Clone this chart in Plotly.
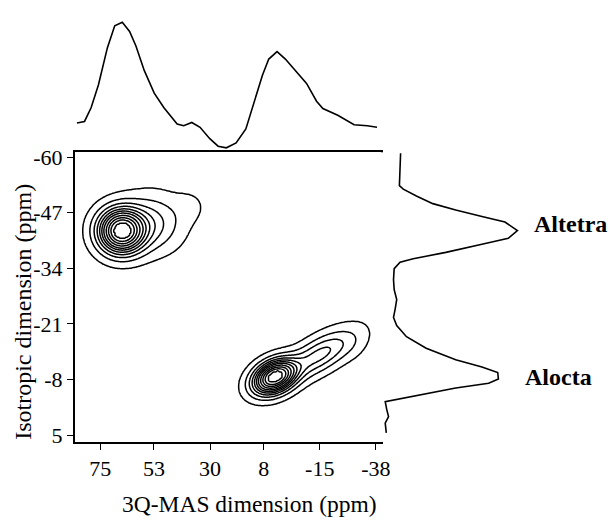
import numpy as np
import plotly.graph_objects as go

# ---------------- data ----------------
# Top projection (3Q-MAS dimension, ppm) : relative intensity
top_ppm = [84.6, 81.5, 78.8, 75.8, 72.1, 69.1, 66.0, 63.0, 60.4, 57.0, 52.9, 48.9,
           43.5, 40.8, 37.5, 34.1, 30.1, 26.7, 23.3, 19.3, 15.3, 11.9, 8.5, 5.9,
           2.5, -0.9, -4.9, -9.6, -13.7, -16.3, -22.4, -29.1, -34.5, -38.5]
top_int = [20.0, 21.3, 32.1, 50.0, 79.5, 96.7, 99.5, 92.3, 80.8, 61.5, 43.6, 32.1,
           19.2, 17.9, 20.5, 16.7, 7.7, 1.8, 0.5, 4.4, 15.4, 37.2, 57.7, 70.5,
           76.4, 70.5, 61.5, 51.3, 37.2, 31.5, 26.2, 18.7, 17.9, 16.7]

# Right projection (isotropic dimension, ppm) : relative intensity
right_ppm = [-60.9, -57.1, -53.3, -52.5, -50.9, -49.1, -47.6, -46.1, -44.8, -42.8,
             -41.0, -39.6, -37.7, -36.2, -35.4, -33.9, -31.3, -29.0, -26.7, -24.4,
             -22.5, -20.6, -18.0, -15.3, -12.6, -10.9, -9.6, -8.1, -7.1, -6.0,
             -4.3, -3.3, -2.8, -0.9, 0.7, 2.2, 4.5]
right_int = [12.7, 12.3, 11.8, 14.7, 24.5, 36.8, 53.9, 73.5, 90.7, 100.0,
             93.2, 73.5, 46.5, 22.1, 12.3, 7.9, 7.4, 7.9, 9.8, 8.6,
             7.4, 9.8, 17.1, 31.8, 53.9, 73.5, 85.3, 85.8, 78.5, 53.9,
             24.5, 7.4, 1.2, 2.4, 3.7, 1.2, 2.0]

# 2D contour map: peak components (centre, widths, ridge slope, amplitude)
peak_x0 = [66.4, 54.0, 38.0, 3.5, -15.0, -29.0]
peak_y0 = [-42.7, -44.5, -48.5, -8.6, -13.8, -16.0]
peak_sx = [6.0, 8.0, 5.0, 5.6, 9.0, 4.5]
peak_sy = [3.3, 4.2, 2.8, 2.4, 2.7, 2.4]
peak_slope = [0.0, 0.0, 0.0, 0.15, 0.27, 0.2]
peak_amp = [1.0, 0.2, 0.035, 1.0, 0.29, 0.03]

contour_levels = [0.03, 0.1, 0.18, 0.26, 0.34, 0.42, 0.5, 0.6, 0.7, 0.8, 0.9]

x_ticks = [75, 53, 30, 8, -15, -38]
y_ticks = [-60, -47, -34, -21, -8, 5]

peak_labels = ["Altetra", "Alocta"]

# ---------------- build the figure ----------------
W, H = 610, 523
FONT = "Liberation Serif, Times New Roman, serif"

gx = np.arange(-40.0, 86.01, 0.5)
gy = np.arange(-61.0, 7.01, 0.25)
X, Y = np.meshgrid(gx, gy)
I = np.zeros_like(X)
for x0, y0, sx, sy, s, a in zip(peak_x0, peak_y0, peak_sx, peak_sy, peak_slope, peak_amp):
    da = X - x0
    db = (Y - y0) - s * da
    I += a * np.exp(-(da ** 2 / (2 * sx ** 2) + db ** 2 / (2 * sy ** 2)))

n = len(contour_levels)
xp = [0.0] + contour_levels + [10.0]
fp = list(range(-1, n + 1))
Z = np.round(np.interp(I, xp, fp), 3)

fig = go.Figure()
fig.add_trace(go.Contour(
    x=gx, y=gy, z=Z,
    contours=dict(start=0, end=n - 1, size=1, coloring="none"),
    line=dict(color="black", width=1.5, smoothing=0.8),
    showscale=False, hoverinfo="skip", xaxis="x", yaxis="y"))

fig.add_trace(go.Scatter(x=top_ppm, y=top_int, mode="lines",
                         line=dict(color="black", width=1.6),
                         xaxis="x2", yaxis="y2", hoverinfo="skip"))
fig.add_trace(go.Scatter(x=right_int, y=right_ppm, mode="lines",
                         line=dict(color="black", width=1.6),
                         xaxis="x3", yaxis="y3", hoverinfo="skip"))

def px(v):
    return v / W

def py(v):
    return 1 - v / H

x_range = [85.5, -40.0]
y_range = [6.6, -61.1]
main_xdom = [px(76), px(387)]
main_ydom = [py(446), py(149)]

axis_common = dict(showgrid=False, zeroline=False, showline=True, linecolor="black",
                   linewidth=1.5, mirror=True, ticks="outside", ticklen=6,
                   tickwidth=1.2, tickcolor="black",
                   tickfont=dict(family=FONT, size=22, color="black"))

fig.update_layout(
    width=W, height=H, margin=dict(l=0, r=0, t=0, b=0),
    paper_bgcolor="white", plot_bgcolor="white", showlegend=False,
    xaxis=dict(domain=main_xdom, range=x_range, tickvals=x_ticks,
               ticktext=[str(v) for v in x_ticks], anchor="y", **axis_common),
    yaxis=dict(domain=main_ydom, range=y_range, tickvals=y_ticks,
               ticktext=[str(v) for v in y_ticks], anchor="x", **axis_common),
    xaxis2=dict(domain=main_xdom, range=x_range, visible=False, anchor="y2"),
    yaxis2=dict(domain=[py(147), py(12)], range=[-1.5, 102.3], visible=False, anchor="x2"),
    xaxis3=dict(domain=[px(385), px(535)], range=[-3.68, 106.6], visible=False, anchor="y3"),
    yaxis3=dict(domain=main_ydom, range=y_range, visible=False, anchor="x3"),
)

ann = [
    dict(text="3Q-MAS dimension (ppm)", x=px(254), y=py(510), xref="paper", yref="paper",
         xanchor="center", yanchor="middle", showarrow=False,
         font=dict(family=FONT, size=23.5, color="black")),
    dict(text="Isotropic dimension (ppm)", x=px(24), y=py(313), xref="paper", yref="paper",
         xanchor="center", yanchor="middle", textangle=-90, showarrow=False,
         font=dict(family=FONT, size=24, color="black")),
    dict(text="<b>" + peak_labels[0] + "</b>", x=px(541), y=py(223), xref="paper", yref="paper",
         xanchor="left", yanchor="middle", showarrow=False,
         font=dict(family=FONT, size=24, color="black")),
    dict(text="<b>" + peak_labels[1] + "</b>", x=px(532), y=py(379), xref="paper", yref="paper",
         xanchor="left", yanchor="middle", showarrow=False,
         font=dict(family=FONT, size=24, color="black")),
]
fig.update_layout(annotations=ann)

fig.write_html("out.html", config={"displayModeBar": False},
               post_script="document.body.style.margin='0';document.body.style.padding='0';")
